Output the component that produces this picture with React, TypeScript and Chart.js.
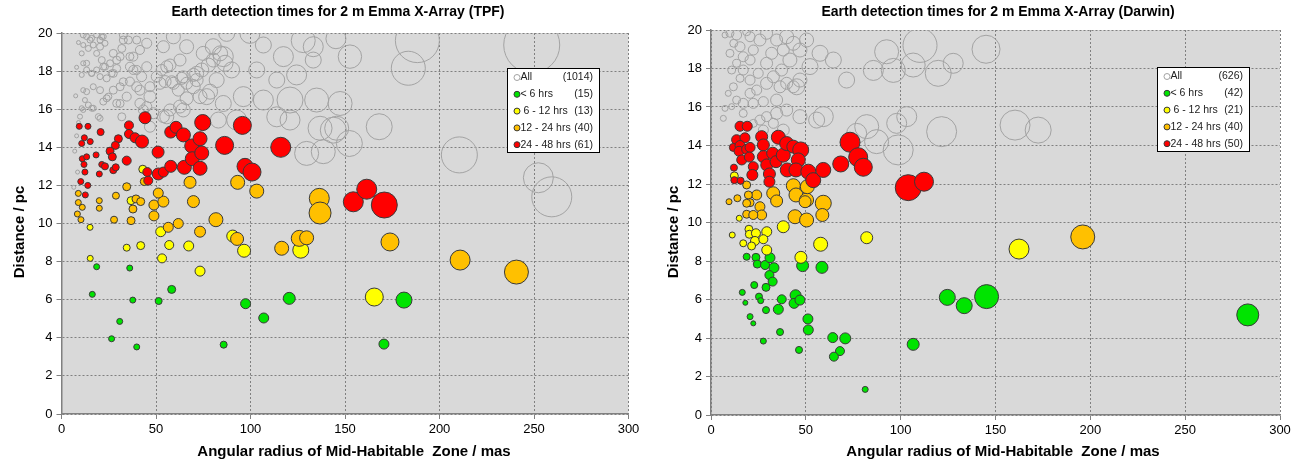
import React, { useEffect, useRef } from "react";
import { Chart, registerables } from "chart.js";

Chart.register(...registerables);

type Pt = [number, number, number]; // [angular radius (mas), distance (pc), bubble radius]

const FONT = '"Liberation Sans", Arial, sans-serif';

const X_MIN = 0;
const X_MAX = 300;
const X_STEP = 50;
const Y_MIN = 0;
const Y_MAX = 20;
const Y_STEP = 2;

const X_TITLE = "Angular radius of Mid-Habitable  Zone / mas";
const Y_TITLE = "Distance / pc";

const LEGEND_LABELS = ["All", "< 6 hrs", " 6 - 12 hrs", "12 - 24 hrs", "24 - 48 hrs"];
const TPF_COUNTS = ["(1014)", "(15)", "(13)", "(40)", "(61)"];
const DARWIN_COUNTS = ["(626)", "(42)", "(21)", "(40)", "(50)"];

// ---------------- TPF (left) ----------------
const tpfRed: Pt[] = [
  [44.2, 15.55, 6], [35.7, 15.15, 4.5], [35.7, 14.7, 4.5], [38.9, 14.5, 5], [42.6, 14.3, 6.5], [30.1, 14.45, 4],
  [28.5, 14.1, 4], [25.7, 13.8, 4], [26.9, 13.5, 4], [20.7, 14.8, 3.5], [9.4, 15.1, 3], [14, 15.1, 3],
  [12.1, 14.5, 3], [15.2, 14.3, 3], [10.7, 14.2, 3], [11, 13.4, 3], [13.3, 13.5, 3], [11.9, 13.1, 3],
  [12.4, 12.7, 3], [18.3, 13.6, 3], [21.3, 13.1, 3], [23, 13, 3.5], [20, 12.6, 3], [27.4, 12.8, 3.5],
  [28.7, 12.95, 3.5], [34.5, 13.3, 4.5], [10.2, 12.2, 3], [13.9, 12.0, 3], [12.6, 11.5, 3], [45.4, 12.7, 4.5],
  [45.9, 12.25, 4.5], [51.2, 12.6, 6], [53.9, 12.7, 5], [51.1, 13.75, 6], [57.8, 13.0, 6], [57.8, 14.8, 6],
  [60.6, 15.05, 6], [64.5, 14.65, 7], [65, 12.95, 7], [68.9, 14.07, 7], [69.2, 13.4, 7], [73.3, 14.45, 7],
  [74.2, 13.7, 7], [73.3, 12.9, 7], [74.7, 15.3, 8], [86.3, 14.1, 9], [95.7, 15.15, 9], [97.1, 13.0, 8],
  [100.8, 12.7, 9], [116, 14.0, 10], [154.4, 11.14, 10], [161.5, 11.8, 10], [170.8, 10.97, 13],
];
const tpfOrange: Pt[] = [
  [136.4, 11.32, 10], [136.8, 10.55, 11], [81.7, 10.2, 7], [61.8, 10.0, 5], [56.5, 9.8, 5], [73.3, 9.57, 5.5],
  [48.9, 10.4, 5], [36.8, 10.15, 4], [27.8, 10.2, 3.5], [10.3, 10.2, 3], [8.4, 10.5, 3], [11, 10.85, 3],
  [8.9, 11.1, 3], [20, 10.8, 3], [37.8, 10.76, 4], [48.9, 10.97, 5], [53.9, 11.15, 5.5], [69.8, 11.15, 6],
  [92.9, 9.19, 6.5], [116.5, 8.7, 7], [125.8, 9.22, 8], [129.7, 9.25, 7], [43.8, 12.2, 4], [34.5, 11.93, 4],
  [28.8, 11.46, 3.5], [20, 11.2, 3], [8.9, 11.58, 3], [39.4, 11.29, 4], [41.9, 11.15, 4], [51.2, 11.6, 5],
  [68, 12.16, 6], [93.2, 12.16, 7], [103.3, 11.7, 7], [210.9, 8.08, 10], [240.7, 7.45, 12], [173.8, 9.03, 9],
];
const tpfYellow: Pt[] = [
  [96.6, 8.57, 6.5], [126.6, 8.6, 8], [73.3, 7.5, 5], [53.2, 8.17, 4.5], [57, 8.87, 4.5], [67.3, 8.82, 5],
  [41.9, 8.84, 4], [34.5, 8.73, 3.5], [15.2, 8.17, 3], [15.1, 9.8, 3], [52.5, 9.57, 5], [90.6, 9.34, 6],
  [165.5, 6.14, 9], [43, 12.85, 4], [36.8, 11.2, 4],
];
const tpfGreen: Pt[] = [
  [18.6, 7.73, 3], [36.1, 7.66, 3], [16.3, 6.28, 3], [37.7, 5.98, 3], [51.4, 5.93, 3.5], [58.3, 6.54, 4],
  [30.8, 4.86, 3], [26.5, 3.95, 3], [39.8, 3.52, 3], [85.8, 3.64, 3.5], [97.4, 5.79, 5], [107, 5.04, 5],
  [120.5, 6.07, 6], [181.2, 5.98, 8], [170.6, 3.67, 5],
];
const tpfAll: Pt[] = [
  [145.2, 19.7, 10], [152.6, 18.76, 11.7], [188.3, 19.6, 22], [183.5, 18.15, 17], [147.4, 16.3, 12], [168.1, 15.08, 13],
  [145.6, 15.0, 12], [152.3, 14.2, 13], [210.5, 13.6, 18], [248.8, 19.37, 28], [252.3, 12.4, 15], [259.4, 11.4, 20],
  [99.7, 19.98, 10], [106.8, 19.37, 8], [117.4, 18.76, 10], [127.9, 19.6, 12], [133.2, 19.28, 10], [133.2, 18.58, 8],
  [124.4, 17.8, 10], [113.9, 17.53, 8], [103.3, 18.06, 8], [106.8, 16.48, 10], [120.9, 16.48, 13], [135, 16.48, 12],
  [113.9, 15.6, 10], [120.9, 15.43, 10], [136.8, 15.0, 12], [143.8, 14.9, 13], [129.7, 13.68, 12], [138.5, 13.77, 12],
  [87.4, 19.98, 8], [80.3, 19.28, 8], [85.6, 18.76, 10], [75, 18.93, 7], [66.2, 19.28, 7], [59.2, 19.8, 7],
  [53.9, 19.28, 6], [62.7, 18.58, 6], [55.7, 18.23, 6], [71.5, 17.88, 7], [64.4, 17.7, 6], [69.7, 17.18, 7],
  [76.8, 16.66, 8], [85.6, 16.3, 8], [96.2, 16.66, 10], [92.7, 15.43, 10], [83, 15.43, 8], [64.4, 15.96, 7],
  [55.7, 15.6, 7], [46.8, 16.66, 6], [39.8, 17.18, 5], [45.1, 18.23, 5], [36.2, 18.76, 4], [39.8, 19.63, 4],
  [32.7, 19.63, 4], [29.2, 18.58, 4], [27.4, 17.88, 4], [32.7, 17.44, 4], [22.1, 18.23, 3.5], [20.4, 19.28, 3.5],
  [21.3, 19.8, 3], [15.1, 19.63, 3], [11.5, 19.37, 2.5], [10.7, 18.93, 2.5], [13.3, 18.41, 3], [16, 17.88, 3],
  [10.7, 17.8, 2.5], [11.5, 17.0, 2.5], [12.4, 16.48, 2.5], [10.7, 16.05, 2.5], [16, 16.05, 3], [20.4, 17.0, 3.5],
  [23.9, 16.57, 3.5], [31, 16.3, 4], [31.9, 15.6, 4], [20.4, 15.52, 3], [38, 18.06, 4.5], [52.1, 17.36, 6],
  [58.3, 17.44, 6], [43.3, 15.96, 5],
  [11.5, 19.9, 3], [13.3, 19.81, 3], [15.9, 19.72, 3], [18.6, 19.9, 3], [20.4, 19.63, 3], [22.1, 19.81, 3],
  [23, 19.46, 3], [16.8, 19.37, 3], [14.2, 19.19, 3], [18.6, 18.93, 3], [21.3, 18.58, 3.5], [23, 18.23, 3.5],
  [25.7, 18.41, 3.5], [11.5, 18.41, 2.5], [13.3, 18.06, 3], [15.9, 17.88, 3], [18.6, 18.06, 3], [20.4, 17.71, 3],
  [23.9, 17.62, 3.5], [26.5, 17.88, 3.5], [29.2, 18.14, 4], [31, 18.76, 4], [27.4, 18.93, 4], [31.9, 19.19, 4],
  [35.4, 19.63, 4], [32.7, 19.9, 4], [45.1, 19.46, 5], [41.5, 19.11, 4.5], [38, 18.76, 4.5], [36.2, 18.23, 4.5],
  [39.8, 18.06, 4.5], [42.4, 17.71, 5], [36.2, 17.45, 4.5], [31, 17.18, 4], [27.4, 17, 4], [24.8, 16.66, 3.5],
  [16.8, 17.18, 3], [13.3, 16.92, 3], [14.2, 16.22, 3], [16.8, 16.05, 3], [11.5, 15.96, 2.5], [9.8, 15.61, 2.5],
  [19.5, 15.61, 3], [22.1, 16.4, 3.5], [29.2, 16.31, 4], [34.5, 16.66, 4.5], [41.5, 17, 5], [46.8, 17.18, 5],
  [50.4, 17.71, 5.5], [53, 18.06, 5.5], [57.4, 18.32, 6], [54.8, 17.45, 6], [59.2, 17.36, 6], [63.6, 17.62, 6],
  [61.8, 17, 6], [66.2, 17.36, 6], [69.8, 17.8, 6.5], [71.5, 17.53, 6.5], [74.2, 18.06, 7], [80.3, 18.58, 7],
  [77.7, 18.32, 7], [83.9, 18.93, 7.5], [86.5, 18.41, 8], [90, 18.06, 8], [82.1, 17.53, 7.5], [78.6, 16.92, 7.5],
  [73.3, 16.66, 7], [66.2, 16.57, 6.5], [62.7, 16.14, 6.5], [57.4, 15.96, 6], [53.9, 15.61, 6], [48.6, 15.79, 5.5],
  [45.1, 16.14, 5], [41.5, 16.31, 5], [46.8, 15.08, 5.5],
  [8, 14.6, 2], [7, 13.8, 2], [8.5, 12.7, 2], [6.5, 11.9, 2], [9, 15.3, 2], [7.5, 16.7, 2], [8, 18.2, 2], [9, 19.5, 2],
];

// ---------------- Darwin (right) ----------------
const darwinRed: Pt[] = [
  [15.3, 15.0, 5], [19.1, 15.0, 5], [13.5, 14.3, 5], [17.9, 14.4, 5], [11.8, 13.9, 4], [15.3, 14.0, 5],
  [14.8, 13.7, 5], [18.8, 13.8, 5], [16.2, 13.25, 5], [20.6, 13.9, 5], [20.2, 13.4, 5], [22.3, 12.9, 5],
  [21.8, 12.47, 5.5], [12.1, 12.85, 3.5], [12.3, 12.2, 3.5], [15.6, 12.17, 3.5], [26.7, 14.46, 6], [27.6, 14.03, 6],
  [27.6, 13.42, 6], [29.4, 12.99, 6], [30.8, 12.52, 6], [30.8, 12.12, 5.5], [35.5, 14.43, 7], [32.5, 13.6, 6],
  [34.3, 13.16, 6], [38.1, 13.5, 7], [39.9, 14.1, 7], [40.2, 12.73, 7], [43.4, 13.94, 6.5], [47.3, 13.77, 8],
  [46, 13.25, 7], [44.8, 12.73, 7], [51.3, 12.64, 7.5], [53.9, 12.2, 7.5], [59.2, 12.73, 7.5], [68.4, 13.04, 8],
  [73.3, 14.17, 10], [77.6, 13.39, 9.5], [80.3, 12.87, 9], [104, 11.81, 13], [112.3, 12.12, 9.5],
];
const darwinOrange: Pt[] = [
  [43.4, 11.91, 7], [44.8, 11.43, 7], [50.4, 11.17, 7], [59.2, 11.0, 8], [50.8, 11.86, 7], [32.8, 11.52, 6.5],
  [34.6, 11.12, 6], [24.1, 11.43, 5], [19.7, 11.43, 4], [20.6, 11.03, 4], [25.8, 10.82, 5], [18.8, 11.95, 4],
  [13.9, 11.26, 3.5], [9.5, 11.08, 3], [18.8, 10.43, 4], [26.7, 10.39, 5], [44.3, 10.3, 7], [58.7, 10.39, 6.5],
  [50.4, 10.13, 7], [22.3, 10.39, 4.5], [18.8, 11.0, 4], [49.6, 11.08, 6], [196, 9.25, 12],
];
const darwinYellow: Pt[] = [
  [11.2, 9.35, 3], [17, 8.92, 3.5], [20, 9.65, 4], [20.2, 9.39, 4], [23.7, 9.44, 4.5], [23.2, 9.04, 4.5],
  [29.4, 9.52, 5], [27.6, 9.13, 4.5], [29.4, 8.57, 5], [21.4, 8.78, 4], [38.1, 9.78, 6], [47.4, 8.19, 6],
  [57.8, 8.87, 7], [82.1, 9.21, 6], [12.3, 12.42, 4], [14.9, 10.22, 3], [162.4, 8.62, 10],
];
const darwinGreen: Pt[] = [
  [18.8, 8.22, 3.5], [23.7, 8.19, 4], [24.4, 7.84, 4], [28.5, 7.79, 4.5], [31.1, 8.17, 5], [33.2, 7.65, 5],
  [30.8, 7.27, 4.5], [32.5, 6.93, 4.5], [29, 6.63, 4], [22.8, 6.75, 3.5], [16.5, 6.37, 3], [18.1, 5.83, 2.5],
  [25.3, 6.15, 3.5], [26.2, 5.94, 3], [29, 5.45, 3.5], [35.5, 5.49, 5], [37.3, 6.01, 4.5], [44.6, 6.22, 5.5],
  [43.8, 5.8, 5], [46.9, 5.97, 5], [20.6, 5.11, 3], [22.3, 4.76, 2.5], [27.6, 3.84, 3], [36.4, 4.31, 3.5],
  [46.4, 3.38, 3.5], [51.1, 4.99, 5], [51.3, 4.42, 5], [64.2, 4.02, 5], [70.8, 3.98, 5.5], [68, 3.32, 4.5],
  [64.8, 3.03, 4.5], [81.3, 1.33, 3], [106.6, 3.67, 6], [124.6, 6.11, 8], [133.5, 5.68, 8], [145.3, 6.15, 12],
  [48.3, 7.76, 6], [58.5, 7.67, 6], [283, 5.2, 11],
];
const darwinAll: Pt[] = [
  [110.2, 19.2, 17], [92.6, 18.87, 12], [85.6, 17.9, 10], [96.1, 17.9, 12], [106.6, 18.18, 12], [119.8, 17.75, 13],
  [127.7, 18.27, 10], [71.5, 17.4, 8], [64.5, 18.44, 8], [57.5, 18.79, 8], [52.2, 18.1, 8], [45.2, 17.05, 8],
  [59.2, 15.5, 10], [55.7, 15.32, 8], [46.9, 15.5, 7], [82.1, 14.98, 12], [76.8, 14.63, 10], [87.3, 14.2, 12],
  [97.9, 15.15, 10], [103.2, 15.5, 10], [98.7, 13.77, 15], [121.6, 14.72, 15], [160.3, 15.06, 15], [172.5, 14.8, 13],
  [145, 19.0, 14],
  [10.0, 19.83, 4], [13.5, 19.74, 5], [12.0, 19.31, 4], [15.3, 19.13, 5], [10.0, 18.79, 4], [17.0, 18.61, 5],
  [13.5, 18.27, 4], [10.9, 17.92, 4], [17.0, 17.92, 5], [20.6, 18.44, 5], [22.3, 18.96, 5], [25.8, 19.48, 6],
  [20.6, 19.65, 5], [29.3, 19.83, 6], [34.6, 19.48, 6], [39.9, 19.65, 7], [38.1, 18.96, 6], [32.0, 18.79, 6],
  [29.3, 18.27, 6], [24.9, 17.75, 5], [20.6, 17.4, 5], [15.3, 17.49, 4], [11.8, 17.05, 4], [9.1, 16.71, 3],
  [13.5, 16.36, 4], [17.0, 16.19, 5], [20.6, 16.71, 5], [24.1, 16.88, 5], [29.3, 17.23, 6], [32.9, 17.57, 6],
  [37.2, 17.92, 6], [41.6, 18.44, 7], [46.9, 18.96, 7], [43.4, 19.31, 7], [50.4, 19.48, 7], [36.4, 17.05, 6],
  [39.9, 17.23, 6], [43.4, 17.05, 6], [46.9, 17.4, 7], [34.6, 16.36, 6], [27.6, 16.28, 5], [22.3, 16.19, 5],
  [17.0, 15.67, 4], [7.4, 15.93, 3], [6.5, 15.41, 3], [10.9, 16.02, 3], [25.8, 15.32, 5], [29.3, 15.5, 5],
  [34.6, 15.67, 6], [39.9, 15.84, 6], [22.3, 15.15, 4], [32.9, 15.15, 5], [38.1, 14.8, 6], [27.6, 14.8, 5],
  [7.4, 19.74, 3], [18.8, 19.91, 4],
];

const COL_ALL = "#a3a3a3";
const COL_GREEN = "#00e400";
const COL_YELLOW = "#ffff00";
const COL_ORANGE = "#ffc000";
const COL_RED = "#ff0000";
const COL_EDGE = "#3a3a3a";

interface Panel {
  title: string;
  counts: string[];
  all: Pt[];
  green: Pt[];
  yellow: Pt[];
  orange: Pt[];
  red: Pt[];
  width: number;
  padTop: number;
  padRight: number;
  xAxisH: number;
  yAxisW: number;
  titleX: number;
  xTitleX: number;
  yTitleX: number;
  yTitleY: number;
  legendTop: number;
  legendRight: number;
}

const PANELS: Panel[] = [
  {
    title: "Earth detection times for 2 m Emma X-Array (TPF)",
    counts: TPF_COUNTS,
    all: tpfAll, green: tpfGreen, yellow: tpfYellow, orange: tpfOrange, red: tpfRed,
    width: 650, padTop: 33, padRight: 21.5, xAxisH: 51, yAxisW: 61.5,
    titleX: 338, xTitleX: 354, yTitleX: 20, yTitleY: 232, legendTop: 68, legendRight: 600,
  },
  {
    title: "Earth detection times for 2 m Emma X-Array (Darwin)",
    counts: DARWIN_COUNTS,
    all: darwinAll, green: darwinGreen, yellow: darwinYellow, orange: darwinOrange, red: darwinRed,
    width: 651, padTop: 30, padRight: 21, xAxisH: 50, yAxisW: 61,
    titleX: 348, xTitleX: 353, yTitleX: 24, yTitleY: 232, legendTop: 67, legendRight: 600,
  },
];

const HEIGHT = 465;

function toPoints(a: Pt[]) {
  return a.map(([x, y, r]) => ({ x, y, r }));
}

function makeDeco(p: Panel) {
  return {
    id: "deco",
    beforeDraw(chart: any) {
      const { ctx, chartArea: a } = chart;
      ctx.save();
      ctx.fillStyle = "#d9d9d9";
      ctx.fillRect(a.left, a.top, a.right - a.left, a.bottom - a.top);
      ctx.restore();
    },
    afterDraw(chart: any) {
      const { ctx } = chart;
      ctx.save();
      ctx.fillStyle = "#000";
      ctx.textAlign = "center";
      ctx.textBaseline = "middle";
      ctx.font = `bold 14px ${FONT}`;
      ctx.fillText(p.title, p.titleX, 12);
      ctx.font = `bold 15px ${FONT}`;
      ctx.fillText(X_TITLE, p.xTitleX, 452);
      ctx.save();
      ctx.translate(p.yTitleX, p.yTitleY);
      ctx.rotate(-Math.PI / 2);
      ctx.fillText(Y_TITLE, 0, 0);
      ctx.restore();

      // legend box
      const W = 93;
      const H = 85;
      const L = p.legendRight - W;
      const T = p.legendTop;
      ctx.fillStyle = "#ffffff";
      ctx.fillRect(L, T, W, H);
      ctx.strokeStyle = "#000";
      ctx.lineWidth = 1;
      ctx.strokeRect(L + 0.5, T + 0.5, W - 1, H - 1);
      const fills = ["#ffffff", COL_GREEN, COL_YELLOW, COL_ORANGE, COL_RED];
      const edges = [COL_ALL, COL_EDGE, COL_EDGE, COL_EDGE, COL_EDGE];
      ctx.font = `10.5px ${FONT}`;
      ctx.textBaseline = "middle";
      for (let i = 0; i < LEGEND_LABELS.length; i++) {
        const cy = T + 9.5 + 16.8 * i;
        ctx.beginPath();
        ctx.arc(L + 10, cy, 3, 0, Math.PI * 2);
        ctx.fillStyle = fills[i];
        ctx.fill();
        ctx.strokeStyle = edges[i];
        ctx.lineWidth = 1;
        ctx.stroke();
        ctx.fillStyle = "#222";
        ctx.textAlign = "left";
        ctx.fillText(LEGEND_LABELS[i], L + 13.5, cy);
        ctx.textAlign = "right";
        ctx.fillText(p.counts[i], L + 86, cy);
      }
      ctx.restore();
    },
  };
}

function BubblePanel({ panel }: { panel: Panel }) {
  const ref = useRef<HTMLCanvasElement | null>(null);
  useEffect(() => {
    if (!ref.current) return;
    const p = panel;
    const mk = (label: string, d: Pt[], fill: string, edge: string) => ({
      label,
      data: toPoints(d),
      backgroundColor: fill,
      borderColor: edge,
      borderWidth: 1,
      hoverBorderWidth: 1,
      clip: 0,
    });
    const chart = new Chart(ref.current, {
      type: "bubble",
      data: {
        datasets: [
          mk("24 - 48 hrs", p.red, COL_RED, COL_EDGE),
          mk("12 - 24 hrs", p.orange, COL_ORANGE, COL_EDGE),
          mk("6 - 12 hrs", p.yellow, COL_YELLOW, COL_EDGE),
          mk("< 6 hrs", p.green, COL_GREEN, COL_EDGE),
          mk("All", p.all, "rgba(0,0,0,0)", COL_ALL),
        ] as any,
      },
      options: {
        animation: false,
        responsive: false,
        devicePixelRatio: 1,
        events: [],
        layout: { autoPadding: false, padding: { top: p.padTop, right: p.padRight, left: 0, bottom: 0 } },
        plugins: { legend: { display: false }, tooltip: { enabled: false }, title: { display: false } },
        scales: {
          x: {
            type: "linear",
            min: X_MIN,
            max: X_MAX,
            afterFit: (s: any) => {
              s.height = p.xAxisH;
              s.paddingLeft = 0;
              s.paddingRight = 0;
            },
            ticks: { stepSize: X_STEP, color: "#000", padding: 3, maxRotation: 0, font: { size: 13, family: FONT } },
            grid: { color: "#808080", lineWidth: 1, tickLength: 5, tickColor: "#808080" },
            border: { display: true, color: "#808080", width: 1.5, dash: [2, 2] },
          },
          y: {
            type: "linear",
            min: Y_MIN,
            max: Y_MAX,
            afterFit: (s: any) => {
              s.width = p.yAxisW;
              s.paddingTop = 0;
              s.paddingBottom = 0;
            },
            ticks: { stepSize: Y_STEP, color: "#000", padding: 4, font: { size: 13, family: FONT } },
            grid: { color: "#808080", lineWidth: 1, tickLength: 5, tickColor: "#808080" },
            border: { display: true, color: "#808080", width: 1.5, dash: [2, 2] },
          },
        },
      } as any,
      plugins: [makeDeco(p)],
    });
    return () => chart.destroy();
  }, [panel]);
  return (
    <canvas
      ref={ref}
      width={panel.width}
      height={HEIGHT}
      style={{ display: "block", width: panel.width, height: HEIGHT }}
    />
  );
}

export default function App() {
  return (
    <div style={{ position: "absolute", left: 0, top: 0, width: 1301, height: HEIGHT, background: "#fff" }}>
      <div style={{ position: "absolute", left: 0, top: 0, width: PANELS[0].width, height: HEIGHT }}>
        <BubblePanel panel={PANELS[0]} />
      </div>
      <div style={{ position: "absolute", left: PANELS[0].width, top: 0, width: PANELS[1].width, height: HEIGHT }}>
        <BubblePanel panel={PANELS[1]} />
      </div>
    </div>
  );
}
